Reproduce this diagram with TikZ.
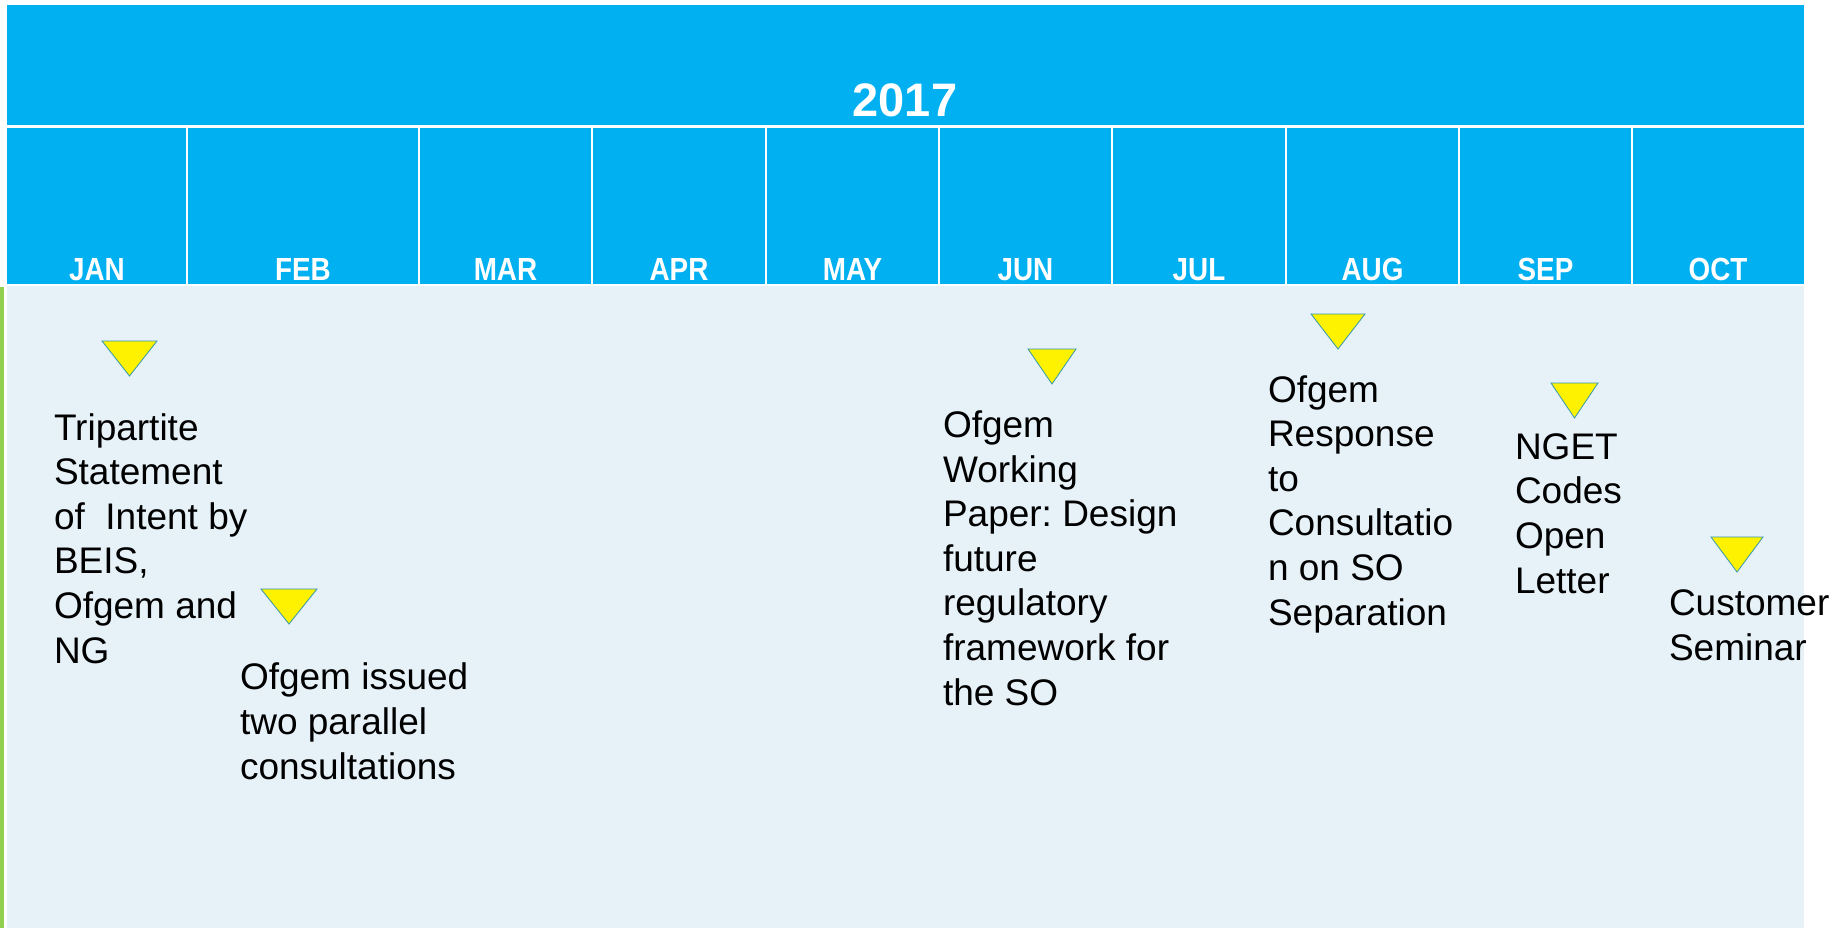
\documentclass[tikz,border=0pt]{standalone}
\usepackage{fontspec}
\setmainfont{Liberation Sans}
\usepackage{tikz}
\definecolor{hdrblue}{HTML}{00B0F0}
\definecolor{paleblue}{HTML}{E6F1F8}
\definecolor{barGreen}{HTML}{92D050}
\definecolor{triEdge}{HTML}{3399AA}
\newcommand{\evfont}{\fontsize{37}{44.6}\selectfont}
\newcommand{\mlabel}[1]{\scalebox{0.87}[1]{#1}}
\frenchspacing

\begin{document}
\begin{tikzpicture}[x=1pt,y=-1pt,
  every node/.style={inner sep=0pt,outer sep=0pt},
  mon/.style={anchor=base,text=white,font=\bfseries\fontsize{32}{32}\selectfont},
  ev/.style={anchor=base west,align=left,font=\evfont},
  tri/.style={fill=yellow,draw=triEdge,line width=0.8pt}]
\useasboundingbox (0,0) rectangle (1835,928);
\fill[paleblue] (7,286) rectangle (1804,928);%
\fill[barGreen] (0,287) rectangle (4,928);%
\fill[hdrblue] (7,5) rectangle (1804,125);%
\fill[hdrblue] (7,128) rectangle (1804,284);%
\foreach \s in {187,419,592,766,939,1112,1286,1459,1632}
  \draw[white,line width=2.5pt] (\s,128) -- (\s,284);
\node[anchor=base,text=white,font=\bfseries\fontsize{47}{47}\selectfont] (yr) at (905,117) {2017};
\foreach \m/\x in {JAN/97,FEB/303,MAR/505.5,APR/679,MAY/852.5,JUN/1025.5,JUL/1199,AUG/1372.5,SEP/1545.5,OCT/1718}
  \node[mon] (\m) at (\x,280) {\mlabel{\m}};
% milestones
\foreach \x/\y/\w in {129.5/341/55,289/589/56,1052/349/48,1338/314/54,1574.5/383/47,1737/537/52}
  \draw[tri] (\x-\w/2,\y) -- ++(\w,0) -- ++(-\w/2,35) -- cycle;
% base = last line
\node[ev] (tripartite) at (54,663) {Tripartite\\Statement\\of\ \ Intent by\\BEIS,\\Ofgem and\\NG};
\node[ev] (consult) at (240,779) {Ofgem issued\\two parallel\\consultations};
\node[ev] (paper) at (943,705) {Ofgem\\Working\\Paper: Design\\future\\regulatory\\framework for\\the SO};
\node[ev] (response) at (1268,625) {Ofgem\\Response\\to\\Consultatio\\n on SO\\Separation};
\node[ev] (letter) at (1515,593) {NGET\\Codes\\Open\\Letter};
\node[ev] (seminar) at (1669,660) {Customer\\Seminar};
\end{tikzpicture}
\end{document}
